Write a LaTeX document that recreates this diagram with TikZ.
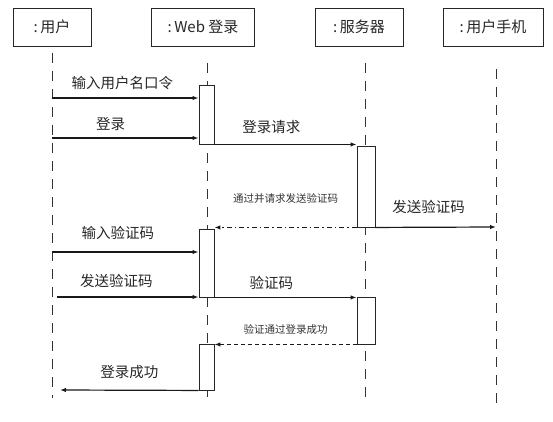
\documentclass[tikz,border=0pt]{standalone}
\usepackage{fontspec}
\setmainfont{Noto Sans CJK SC}
\usetikzlibrary{arrows.meta}
\tikzset{
  head/.style={draw=black!85, line width=0.9pt, minimum height=38pt, inner sep=0pt, font=\fontsize{15}{17}\selectfont, text=black!85},
  life/.style={draw=black!80, line width=0.9pt, dash pattern=on 10pt off 8pt},
  act/.style={draw=black!85, fill=white, line width=0.9pt, inner sep=0pt},
  msg/.style={draw=black!90, line width=1.2pt, -{Latex[length=6pt,width=4.5pt]}},
  lbl/.style={font=\fontsize{14.5}{16}\selectfont, text=black!85},
  slbl/.style={font=\fontsize{10.5}{12}\selectfont, text=black!80},
}
\begin{document}
\begin{tikzpicture}[x=1pt,y=-1pt]
\useasboundingbox (0,0) rectangle (553,422);
% headers
\node[head, minimum width=78pt] (hu) at (52,27) {:\,用户};
\node[head, minimum width=103pt] (hw) at (203,27) {:\,Web 登录};
\node[head, minimum width=88pt] (hs) at (359,27) {:\,服务器};
\node[head, minimum width=100pt] (hp) at (493,27) {:\,用户手机};
% lifeline ends
\coordinate (ut) at (52,53);  \coordinate (ub) at (52,398);
\coordinate (wt) at (207,63); \coordinate (wb) at (207,398);
\coordinate (st) at (365,63); \coordinate (sb) at (365,397);
\coordinate (pt) at (496,69); \coordinate (pb) at (496,405);
\draw[life] (ut) -- (ub);
\draw[life] (wt) -- (wb);
\draw[life] (st) -- (sb);
\draw[life] (pt) -- (pb);
% activation boxes
\node[act, minimum width=15pt, minimum height=59pt] (w1) at (206.5,114.5) {};
\node[act, minimum width=15pt, minimum height=68pt] (w2) at (206.5,263) {};
\node[act, minimum width=15pt, minimum height=46pt] (w3) at (206.5,367) {};
\node[act, minimum width=18pt, minimum height=81pt] (s1) at (366,186.5) {};
\node[act, minimum width=18pt, minimum height=47pt] (s2) at (366,320.5) {};
% message endpoints on lifelines
\coordinate (u1) at (52,98);
\coordinate (u2) at (52,138);
\coordinate (u3) at (52,252);
\coordinate (u4) at (57,297);
\coordinate (u5) at (60,390);
\coordinate (p1) at (496,227);
% messages
\draw[msg] (u1) -- (u1 -| w1.west) node[lbl, pos=0.48, above=4pt] {输入用户名口令};
\draw[msg] (u2) -- (u2 -| w1.west) node[lbl, pos=0.4, above=3pt] {登录};
\draw[msg] (w1.south east) -- (w1.south east -| s1.west) node[lbl, pos=0.4, above=7pt] {登录请求};
\draw[msg, dash pattern=on 5pt off 3pt on 1.5pt off 3pt] (s1.south west) -- (s1.south west -| w1.east) node[slbl, midway, above=20pt] {通过并请求发送验证码};
\draw[msg] (s1.south east) -- (p1) node[lbl, pos=0.44, above=10pt] {发送验证码};
\draw[msg] (u3) -- (u3 -| w2.west) node[lbl, pos=0.45, above=8pt] {输入验证码};
\draw[msg] (u4) -- (u4 -| w2.west) node[lbl, pos=0.42, above=5pt] {发送验证码};
\draw[msg] (w2.south east) -- (w2.south east -| s2.west) node[lbl, pos=0.4, above=4pt] {验证码};
\draw[msg, dash pattern=on 4pt off 3pt] (s2.south west) -- (s2.south west -| w2.east) node[slbl, midway, above=6pt] {验证通过登录成功};
\draw[msg] (w3.south west) -- (u5) node[lbl, midway, above=8pt] {登录成功};
\end{tikzpicture}
\end{document}
